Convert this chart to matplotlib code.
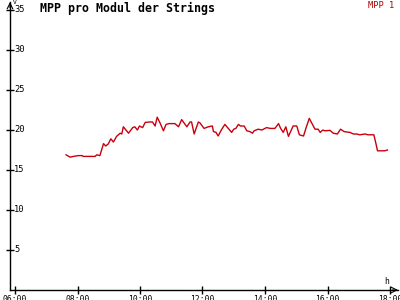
import matplotlib
matplotlib.use("Agg")
import matplotlib.pyplot as plt

# MPP 1 readings (time of day, volts)
zeiten = [
    "07:38", "07:46", "07:52", "08:02", "08:09", "08:11", "08:34", "08:37", "08:43", "08:50",
    "08:54", "08:59", "09:04", "09:09", "09:15", "09:22", "09:25", "09:28", "09:33", "09:38",
    "09:46", "09:50", "09:55", "09:59", "10:05", "10:10", "10:18", "10:24", "10:29", "10:33",
    "10:38", "10:45", "10:50", "10:56", "11:07", "11:14", "11:20", "11:30", "11:36", "11:39",
    "11:44", "11:52", "11:55", "12:03", "12:11", "12:19", "12:21", "12:26", "12:30", "12:37",
    "12:43", "12:56", "13:00", "13:04", "13:09", "13:13", "13:20", "13:25", "13:31", "13:36",
    "13:39", "13:47", "13:54", "14:00", "14:03", "14:10", "14:19", "14:26", "14:30", "14:35",
    "14:40", "14:45", "14:54", "15:01", "15:06", "15:14", "15:19", "15:25", "15:36", "15:42",
    "15:46", "15:51", "15:55", "16:05", "16:11", "16:19", "16:25", "16:32", "16:43", "16:50",
    "16:56", "17:02", "17:12", "17:18", "17:29", "17:33", "17:36", "17:50", "17:55",
]
mpp1 = [
    16.9, 16.6, 16.7, 16.8, 16.8, 16.7, 16.7, 16.9, 16.8, 18.3,
    18.0, 18.25, 18.9, 18.5, 19.2, 19.6, 19.5, 20.4, 20.0, 19.6,
    20.3, 20.4, 20.0, 20.5, 20.3, 20.95, 21.0, 21.0, 20.5, 21.6,
    20.95, 19.9, 20.7, 20.8, 20.8, 20.4, 21.3, 20.4, 21.0, 21.0,
    19.5, 21.0, 20.9, 20.2, 20.4, 20.5, 19.8, 19.7, 19.25, 20.1,
    20.7, 19.7, 20.1, 20.2, 20.7, 20.5, 20.5, 19.9, 19.8, 19.6,
    19.9, 20.1, 20.0, 20.2, 20.3, 20.2, 20.2, 20.8, 20.2, 19.7,
    20.4, 19.2, 20.5, 20.5, 19.4, 19.25, 20.3, 21.45, 20.1, 20.1,
    19.7, 20.0, 19.9, 19.95, 19.6, 19.5, 20.1, 19.8, 19.7, 19.5,
    19.5, 19.4, 19.5, 19.4, 19.4, 18.3, 17.4, 17.4, 17.5,
]
y_ticks = [5, 10, 15, 20, 25, 30, 35]
x_ticks = [6, 8, 10, 12, 14, 16, 18]
x_labels = ["06:00", "08:00", "10:00", "12:00", "14:00", "16:00", "18:00"]


def in_stunden(t):
    h, m = t.split(":")
    return int(h) + int(m) / 60.0


stunden = [in_stunden(t) for t in zeiten]

W, H = 400, 300
fig = plt.figure(figsize=(4, 3), dpi=100)
fig.patch.set_facecolor("white")
ax = fig.add_axes([10 / W, 10 / H, 388 / W, 288 / H])
ax.set_xlim(5.84, 18.256)
ax.set_ylim(0, 36)

ax.plot(stunden, mpp1, color="#c8000c", lw=1.0)

for s in ("top", "right"):
    ax.spines[s].set_visible(False)
for s in ("left", "bottom"):
    ax.spines[s].set_linewidth(1.0)
    ax.spines[s].set_color("black")

mono = "DejaVu Sans Mono"
ax.set_xticks(x_ticks)
ax.set_xticklabels(x_labels, fontsize=5.8, family=mono)
ax.set_yticks(y_ticks)
ax.set_yticklabels([])
ax.tick_params(axis="both", direction="inout", length=6, width=1.0, color="black")
ax.tick_params(axis="x", pad=0.5)

for v in y_ticks:
    ax.text(4 / 388, v, str(v), transform=ax.get_yaxis_transform(), fontsize=6.3,
            family=mono, ha="left", va="center")

# axis arrows
ax.annotate("", xy=(1.0, 0), xytext=(0.985, 0), xycoords="axes fraction",
            arrowprops=dict(arrowstyle="->", lw=0.8, color="black",
                            shrinkA=0, shrinkB=0))
ax.annotate("", xy=(0, 1.0), xytext=(0, 0.98), xycoords="axes fraction",
            arrowprops=dict(arrowstyle="->", lw=0.8, color="black",
                            shrinkA=0, shrinkB=0))


def px(x, y):
    return x / W, 1 - y / H


fig.text(*px(13, 3), "V", fontsize=4.5, family=mono, ha="left", va="center")
fig.text(*px(387, 281), "h", fontsize=5.8, family=mono, ha="center", va="center")
fig.text(*px(40, 8), "MPP pro Modul der Strings", fontsize=8.4, family=mono,
         weight="bold", ha="left", va="center")
fig.text(*px(394, 5), "MPP 1", fontsize=6.2, family=mono, color="#b00000",
         ha="right", va="center")

fig.savefig("out.png", dpi=100)
